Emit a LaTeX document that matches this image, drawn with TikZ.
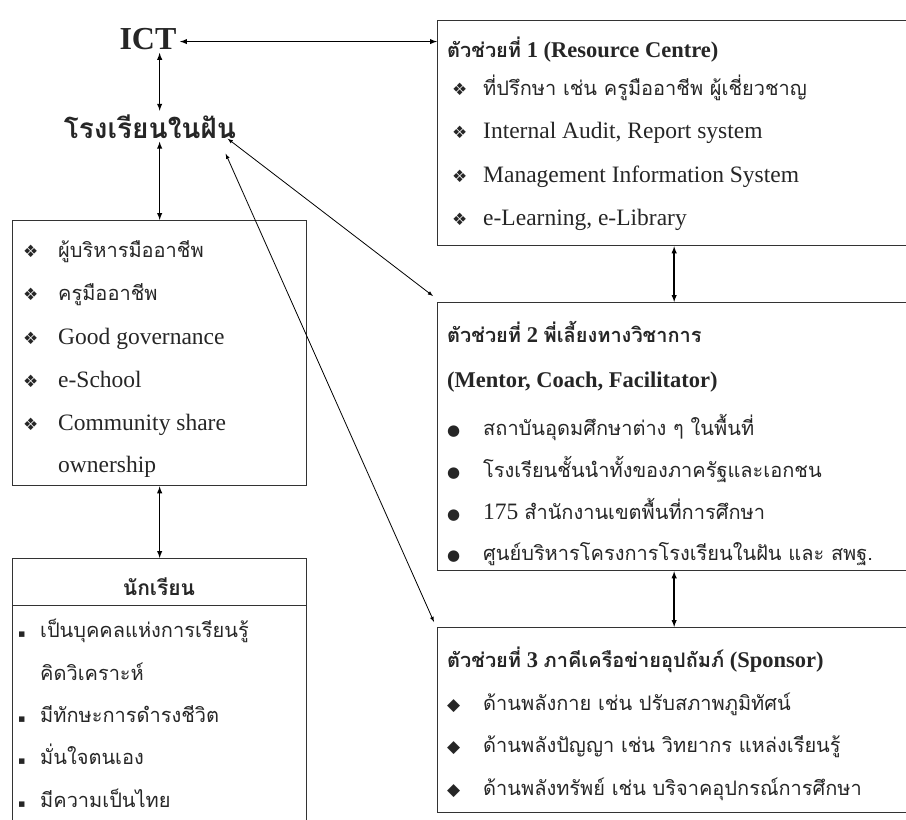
\documentclass[tikz,border=0pt]{standalone}
\usepackage{fontspec}
\setmainfont{Liberation Serif}
\newfontfamily\thaifont[Script=Thai]{Loma}
\newfontfamily\symfont{DejaVu Sans}
\usetikzlibrary{arrows,positioning}
\tikzset{>=latex}
\newcommand{\thai}[1]{{\thaifont\fontsize{20}{24}\selectfont #1}}
\newcommand{\clover}[1][31pt]{\makebox[#1][l]{\symfont\fontsize{17}{17}\selectfont ❖}}
\newcommand{\ball}{\makebox[36pt][l]{\symfont\fontsize{15}{15}\selectfont ●}}
\newcommand{\dia}{\makebox[36pt][l]{\symfont\fontsize{17}{17}\selectfont ◆}}
\newcommand{\sq}{\makebox[22pt][l]{\symfont\fontsize{11}{11}\selectfont ▪}}

\begin{document}
\begin{tikzpicture}[x=1pt,y=-1pt]

                        \tikzstyle{every node}=[font=\fontsize{23.5}{27}\selectfont, text=black!85]
                        \tikzstyle{box}=[draw=black!80, line width=1.3pt, inner sep=0, anchor=north west]
                        \tikzstyle{item}=[anchor=base west, inner sep=0]
                        \tikzstyle{head}=[item, font=\bfseries\fontsize{22.5}{26}\selectfont]
                        \tikzstyle{link}=[<->, line width=1.4pt]
                        \useasboundingbox (0,0) rectangle (906,820);

                        % boxes
                        \node[box, minimum width=294pt, minimum height=265pt] (school) at (12,220) {};
                        \node[box, minimum width=294pt, minimum height=47pt] (studhead) at (12,558) {};
                        \node[box, minimum width=294pt, minimum height=215pt] (stud) at (12,605) {};
                        \node[box, minimum width=473pt, minimum height=225pt] (box1) at (437,20) {};
                        \node[box, minimum width=473pt, minimum height=268pt] (box2) at (437,302) {};
                        \node[box, minimum width=473pt, minimum height=185pt] (box3) at (437,627) {};

                        % titles
                        \node[anchor=base, font=\bfseries\fontsize{32}{36}\selectfont] (ict) at (148,49) {ICT};
                        \node[anchor=base, font=\thaifont\bfseries\fontsize{28}{32}\selectfont] (dream) at (150,138) {โรงเรียนในฝัน};

                        % box 1
                        \node[head] (t1) at (447,57) {\thai{\bfseries ตัวช่วยที่} 1 (Resource Centre)};
                        \node[item] (r1) at (452,95) {\clover\thai{ที่ปรึกษา เช่น ครูมืออาชีพ ผู้เชี่ยวชาญ}};
                        \node[item] (r2) at (452,138) {\clover Internal Audit, Report system};
                        \node[item] (r3) at (452,182) {\clover Management Information System};
                        \node[item] (r4) at (452,225) {\clover e-Learning, e-Library};

                        % box 2
                        \node[head] (t2) at (447,342) {\thai{\bfseries ตัวช่วยที่} 2 \thai{\bfseries พี่เลี้ยงทางวิชาการ}};
                        \node[head] (t2b) at (447,387) {(Mentor, Coach, Facilitator)};
                        \node[item] (m1) at (447,435) {\ball\thai{สถาบันอุดมศึกษาต่าง ๆ ในพื้นที่}};
                        \node[item] (m2) at (447,477) {\ball\thai{โรงเรียนชั้นนำทั้งของภาครัฐและเอกชน}};
                        \node[item] (m3) at (447,519) {\ball 175 \thai{สำนักงานเขตพื้นที่การศึกษา}};
                        \node[item] (m4) at (447,560) {\ball\thai{ศูนย์บริหารโครงการโรงเรียนในฝัน และ สพฐ.}};

                        % box 3
                        \node[head] (t3) at (447,667) {\thai{\bfseries ตัวช่วยที่} 3 \thai{\bfseries ภาคีเครือข่ายอุปถัมภ์} (Sponsor)};
                        \node[item] (s1) at (447,710) {\dia\thai{ด้านพลังกาย เช่น ปรับสภาพภูมิทัศน์}};
                        \node[item] (s2) at (447,752) {\dia\thai{ด้านพลังปัญญา เช่น วิทยากร แหล่งเรียนรู้}};
                        \node[item] (s3) at (447,795) {\dia\thai{ด้านพลังทรัพย์ เช่น บริจาคอุปกรณ์การศึกษา}};

                        % school box
                        \node[item] (g1) at (23,257) {\clover[35pt]\thai{ผู้บริหารมืออาชีพ}};
                        \node[item] (g2) at (23,300) {\clover[35pt]\thai{ครูมืออาชีพ}};
                        \node[item] (g3) at (23,344) {\clover[35pt]Good governance};
                        \node[item] (g4) at (23,387) {\clover[35pt]e-School};
                        \node[item] (g5) at (23,430) {\clover[35pt]Community share};
                        \node[item] (g6) at (58,472) {ownership};

                        % students
                        \node[anchor=base, font=\thaifont\bfseries\fontsize{21}{25}\selectfont] (sh) at (159,595) {นักเรียน};
                        \node[item] (p1) at (18,637) {\sq\thai{เป็นบุคคลแห่งการเรียนรู้}};
                        \node[item] (p2) at (40,680) {\thai{คิดวิเคราะห์}};
                        \node[item] (p3) at (18,722) {\sq\thai{มีทักษะการดำรงชีวิต}};
                        \node[item] (p4) at (18,764) {\sq\thai{มั่นใจตนเอง}};
                        \node[item] (p5) at (18,807) {\sq\thai{มีความเป็นไทย}};

                        % links
                        \draw[link] ([yshift=-3pt]ict.east) -- ([yshift=-3pt]ict.east -| box1.west);
                        \draw[link] (ict.south -| school.north) -- (dream.north -| school.north);
                        \draw[link] (dream.south -| school.north) -- (school.north);
                        \draw[link] (school) -- (studhead);
                        \draw[link] (box1) -- (box2);
                        \draw[link] (box2) -- (box3);
                        \draw[<->, line width=0.8pt] ([xshift=-12pt,yshift=3pt]dream.south east) -- ([shift={(-4,-6)}]box2.north west);
                        \draw[<->, line width=0.8pt] ([xshift=-14pt,yshift=-12pt]dream.south east) -- ([shift={(-3,-5)}]box3.north west);
                \end{tikzpicture}
\end{document}
